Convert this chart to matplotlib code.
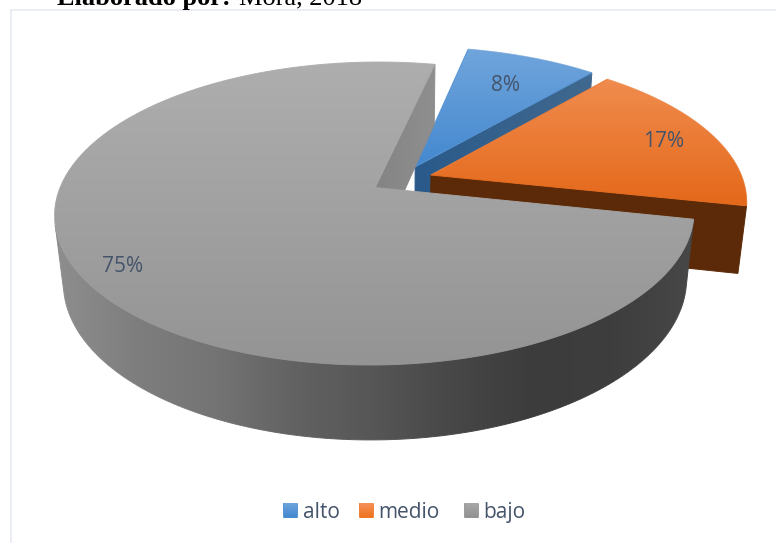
import numpy as np
import matplotlib
matplotlib.use("Agg")
import matplotlib.pyplot as plt
from matplotlib.collections import LineCollection
from matplotlib.colors import LinearSegmentedColormap
from matplotlib.patches import Polygon, Rectangle

categories = ["alto", "medio", "bajo"]
values = [8, 17, 75]
value_labels = ["8%", "17%", "75%"]
label_radius = [0.745, 0.83, 0.873]

first_angle = 12.0
explode = 0.1

# camera used for the tilted pie
ox, oy = 401.5, 179.6
ax_scale, ay_scale = 312.0, 144.3
tilt, sink = 0.17, 0.025
thickness = 68.0

top_colors = [["#70a5dc", "#4488cf"], ["#f08c4e", "#e4681a"], ["#aeaeae", "#949494"]]
radial_wall_colors = [["#2a5a8a", "#41698f"], ["#5c2a08", "#5c2a08"], ["#848484", "#8f8f8f"]]
outer_wall_colors = [["#2a5a8a", "#2a5a8a"], ["#5c2a08", "#5c2a08"],
                     ["#8e8e8e", "#7e7e7e", "#747474", "#626262", "#565656",
                      "#474747", "#3c3c3c", "#3e3e3e", "#474747"]]
legend_colors = [["#6ea4dc", "#4488cf"], ["#f59058", "#ee7420"], ["#a8a8a8", "#929292"]]
text_color = "#44546a"
border_color = "#e6eaf2"


def project(x, y, z=0.0):
    w = 1 + tilt * y + sink * z
    return ox + ax_scale * x / w, oy + (thickness * z - ay_scale * y) / w


def gradient_fill(ax, verts, colors, horizontal=False, zorder=2):
    verts = np.array(verts)
    x0, y0 = verts.min(axis=0)
    x1, y1 = verts.max(axis=0)
    cmap = LinearSegmentedColormap.from_list("g", colors)
    ramp = np.linspace(0, 1, 256)
    ramp = ramp[None, :] if horizontal else ramp[:, None]
    im = ax.imshow(ramp, cmap=cmap, vmin=0, vmax=1, extent=(x0, x1, y1, y0),
                   aspect="auto", zorder=zorder, interpolation="bilinear")
    im.set_clip_path(Polygon(verts, closed=True, transform=ax.transData))
    # outline follows the same ramp, it hides the stair-steps of the clip path
    closed = np.vstack([verts, verts[:1]])
    segs = np.stack([closed[:-1], closed[1:]], axis=1)
    mids = segs.mean(axis=1)
    if horizontal:
        pos = (mids[:, 0] - x0) / max(x1 - x0, 1e-6)
    else:
        pos = (mids[:, 1] - y0) / max(y1 - y0, 1e-6)
    ax.add_collection(LineCollection(segs, colors=cmap(pos), linewidths=0.7, zorder=zorder),
                      autolim=False)


fig = plt.figure(figsize=(7.76, 5.43), dpi=100)
ax = fig.add_axes([0, 0, 1, 1])
ax.axis("off")
ax.set_xlim(0, 776)
ax.set_ylim(543, 0)

# chart frame, cut off by the page on the right and at the bottom
ax.add_patch(Rectangle((10.5, 9.5), 800, 600, facecolor="white",
                       edgecolor=border_color, linewidth=1.2, zorder=0))

fractions = np.array(values) / sum(values)
edges = first_angle + 360 * np.concatenate([[0], np.cumsum(fractions)])

order = 2
for i, cat in enumerate(categories):
    a0, a1 = np.radians(edges[i]), np.radians(edges[i + 1])
    mid = (a0 + a1) / 2
    cx, cy = explode * np.sin(mid), explode * np.cos(mid)
    t = np.linspace(a0, a1, 400)
    arc_x, arc_y = cx + np.sin(t), cy + np.cos(t)

    outer_top = np.column_stack(project(arc_x, arc_y, 0.0))
    outer_bot = np.column_stack(project(arc_x, arc_y, 1.0))

    # only the stretch of the rim that faces the camera gets a wall
    d_top = np.diff(outer_top, axis=0)
    d_side = (outer_bot - outer_top)[:-1]
    facing = d_top[:, 0] * d_side[:, 1] - d_top[:, 1] * d_side[:, 0] < 0
    if facing.any():
        idx = np.flatnonzero(facing)
        s, e = idx[0], idx[-1] + 2
        wall = np.vstack([outer_top[s:e], outer_bot[s:e][::-1]])
        gradient_fill(ax, wall, outer_wall_colors[i], horizontal=True, zorder=order)

    # the clockwise cut face is the one that can be seen
    ex, ey = cx + np.sin(a1), cy + np.cos(a1)
    side = [project(cx, cy, 0.0), project(ex, ey, 0.0),
            project(ex, ey, 1.0), project(cx, cy, 1.0)]
    gradient_fill(ax, side, radial_wall_colors[i], horizontal=True, zorder=order + 1)

    top = np.vstack([[project(cx, cy)], outer_top])
    gradient_fill(ax, top, top_colors[i], zorder=order + 2)

    lx, ly = project(cx + label_radius[i] * np.sin(mid), cy + label_radius[i] * np.cos(mid))
    ax.text(lx + 0.5, ly + 3, value_labels[i], ha="center", va="center", fontsize=15,
            color=text_color, family="Open Sans", zorder=20)
    order += 3

# legend row
legend_x = [283, 359, 464]
for i, cat in enumerate(categories):
    x = legend_x[i]
    gradient_fill(ax, [(x, 503), (x + 14, 503), (x + 14, 517), (x, 517)], legend_colors[i], zorder=20)
    ax.text(x + 19.5, 510, cat, ha="left", va="center_baseline", fontsize=15,
            color=text_color, family="Open Sans", zorder=20)

# caption sitting above the frame
cap = ax.text(57, 4.5, "Elaborado por:", ha="left", va="baseline", fontsize=19,
              fontweight="bold", family="Liberation Serif", color="black", zorder=20)
fig.canvas.draw()
cap_end = cap.get_window_extent().x1
ax.text(cap_end + 8, 4.5, "Mora, 2018", ha="left", va="baseline", fontsize=19,
        family="Liberation Serif", color="black", zorder=20)

fig.savefig("out.png", dpi=100)
